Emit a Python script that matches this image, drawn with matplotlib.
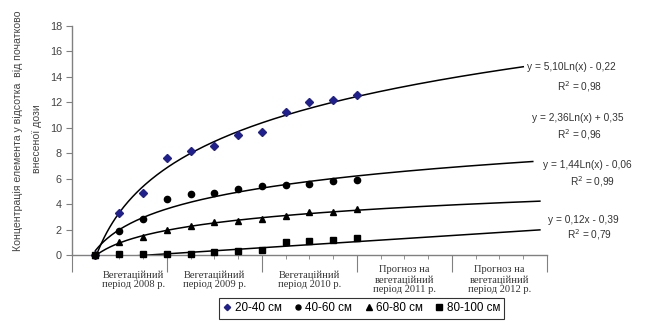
import numpy as np
import matplotlib.pyplot as plt
from matplotlib.ticker import MultipleLocator

# Measurement periods (12 observations) and concentrations for each depth layer
x = np.arange(1, 13)
depth_20_40 = [0, 3.3, 4.9, 7.6, 8.2, 8.6, 9.4, 9.7, 11.2, 12.0, 12.2, 12.6]
depth_40_60 = [0, 1.9, 2.8, 4.4, 4.8, 4.9, 5.2, 5.4, 5.5, 5.6, 5.8, 5.9]
depth_60_80 = [0, 1.0, 1.4, 2.0, 2.3, 2.6, 2.7, 2.8, 3.1, 3.4, 3.4, 3.6]
depth_80_100 = [0, 0.1, 0.1, 0.1, 0.1, 0.2, 0.3, 0.4, 1.0, 1.1, 1.2, 1.3]

series_labels = ['20-40 см', '40-60 см', '60-80 см', '80-100 см']

# Trendline coefficients: (kind, a, b) -> a*ln(x)+b or a*x+b
trends = [('log', 5.10, -0.22), ('log', 2.36, 0.35), ('log', 1.44, -0.06), ('lin', 0.12, -0.39)]
trend_end = [19.0, 19.4, 19.7, 19.7]
eq_text = ['y = 5,10Ln(x) - 0,22', 'y = 2,36Ln(x) + 0,35',
           'y = 1,44Ln(x) - 0,06', 'y = 0,12x - 0,39']
r2_text = ['R$^2$ = 0,98', 'R$^2$ = 0,96', 'R$^2$ = 0,99', 'R$^2$ = 0,79']
eq_pos = [(19.15, 14.75), (19.36, 10.8), (19.83, 7.1), (20.04, 2.76)]
r2_pos = [(21.38, 13.25), (21.38, 9.46), (21.93, 5.76), (21.8, 1.58)]

periods = ['Вегетаційний\nперіод 2008 р.', 'Вегетаційний\nперіод 2009 р.',
           'Вегетаційний\nперіод 2010 р.', 'Прогноз на\nвегетаційний\nперіод 2011 р.',
           'Прогноз на\nвегетаційний\nперіод 2012 р.']
period_centers = [2.6, 6, 10, 14, 18]

plt.rcParams['font.family'] = ['Liberation Sans', 'DejaVu Sans']

fig = plt.figure(figsize=(6.51, 3.22), dpi=100)
ax = fig.add_axes([0.1101, 0.2081, 0.7302, 0.7112])

data = [depth_20_40, depth_40_60, depth_60_80, depth_80_100]
markers = ['D', 'o', '^', 's']
colors = ['#1f1f8f', 'black', 'black', 'black']
sizes = [4, 4.5, 5, 5]

handles = []
for vals, m, c, s, lab in zip(data, markers, colors, sizes, series_labels):
    h, = ax.plot(x, vals, linestyle='none', marker=m, color=c, markersize=s,
                 label=lab, zorder=3, clip_on=False)
    handles.append(h)

for (kind, a, b), xe in zip(trends, trend_end):
    xt = np.linspace(1, xe, 300)
    yt = a * np.log(xt) + b if kind == 'log' else a * xt + b
    ax.plot(xt, yt, color='black', linewidth=1.1, zorder=2)

for txt, (tx, ty) in zip(eq_text, eq_pos):
    ax.text(tx, ty, txt, ha='left', va='center', fontsize=7.3, color='#333333',
            clip_on=False)
for txt, (tx, ty) in zip(r2_text, r2_pos):
    ax.text(tx, ty, txt, ha='center', va='center', fontsize=7.3, color='#333333',
            clip_on=False)

ax.set_xlim(0, 20)
ax.set_ylim(0, 18)
ax.yaxis.set_major_locator(MultipleLocator(2))
ax.set_xticks([0, 4, 8, 12, 16, 20])
ax.set_xticks(np.arange(0, 21), minor=True)
ax.set_xticklabels([])
ax.tick_params(axis='x', which='major', direction='out', length=12, color='#808080')
ax.tick_params(axis='x', which='minor', direction='out', length=3, color='#808080')
ax.tick_params(axis='y', direction='out', length=4, color='#808080',
               labelsize=7.8, labelcolor='#444444', pad=3)

for side in ['top', 'right']:
    ax.spines[side].set_visible(False)
for side in ['left', 'bottom']:
    ax.spines[side].set_color('#808080')
    ax.spines[side].set_linewidth(1.0)

for lab, cx in zip(periods, period_centers):
    ax.text(cx, -1.95, lab, ha='center', va='center', fontsize=7.6,
            family=['Liberation Serif'], color='#333333', linespacing=1.1)

fig.text(0.027, 0.593, 'Концентрація елемента у відсотка  від початково',
         rotation=90, ha='center', va='center', fontsize=7.6, color='#444444')
fig.text(0.057, 0.568, 'внесеної дози', rotation=90, ha='center', va='center',
         fontsize=7.6, color='#444444')

leg = fig.legend(handles=handles, loc='center', bbox_to_anchor=(0.556, 0.042),
                 ncol=4, frameon=True, fontsize=8.4, handlelength=0.6,
                 handletextpad=0.35, columnspacing=1.1, borderpad=0.35,
                 fancybox=False, edgecolor='black', markerscale=0.8)
leg.get_frame().set_linewidth(0.8)

fig.savefig('out.png', dpi=100)
